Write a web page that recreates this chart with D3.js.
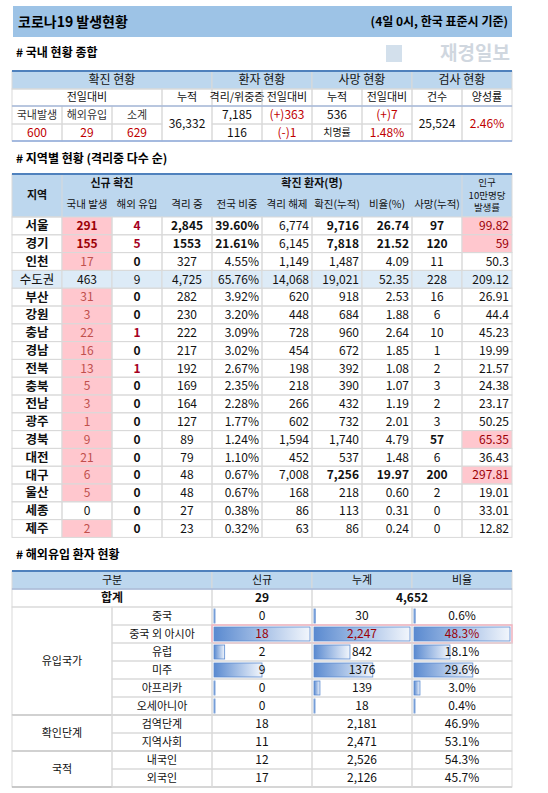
<!DOCTYPE html>
<html><head><meta charset="utf-8">
<script src="https://cdn.jsdelivr.net/npm/d3@7"></script>
<style>body{margin:0;background:#fff}text{font-family:"Noto Sans CJK KR","Noto Sans",sans-serif}</style>
</head><body><div id="chart"></div>
<script>
// 지역별 현황
const regions = ["서울","경기","인천","수도권","부산","강원","충남","경남","전북","충북","전남","광주","경북","대전","대구","울산","세종","제주"];
const domestic = ["291","155","17","463","31","3","22","16","13","5","3","1","9","21","6","5","0","2"];
const overseas = ["4","5","0","9","0","0","1","0","1","0","0","0","0","0","0","0","0","0"];
const isolated = ["2,845","1553","327","4,725","282","230","222","217","192","169","164","127","89","79","48","48","27","23"];
const share = ["39.60%","21.61%","4.55%","65.76%","3.92%","3.20%","3.09%","3.02%","2.67%","2.35%","2.28%","1.77%","1.24%","1.10%","0.67%","0.67%","0.38%","0.32%"];
const released = ["6,774","6,145","1,149","14,068","620","448","728","454","198","218","266","602","1,594","452","7,008","168","86","63"];
const cumulative = ["9,716","7,818","1,487","19,021","918","684","960","672","392","390","432","732","1,740","537","7,256","218","113","86"];
const ratio = ["26.74","21.52","4.09","52.35","2.53","1.88","2.64","1.85","1.08","1.07","1.19","2.01","4.79","1.48","19.97","0.60","0.31","0.24"];
const deaths = ["97","120","11","228","16","6","10","1","2","3","2","3","57","6","200","2","0","0"];
const per100k = ["99.82","59","50.3","209.12","26.91","44.4","45.23","19.99","21.57","24.38","23.17","50.25","65.35","36.43","297.81","19.01","33.01","12.82"];

// 해외유입
const importGroups = [["유입국가",6],["확인단계",2],["국적",2]];
const importLabels = ["중국","중국 외 아시아","유럽","미주","아프리카","오세아니아","검역단계","지역사회","내국인","외국인"];
const importNew = [0,18,2,9,0,0,18,11,12,17];
const importCum = [30,2247,842,1376,139,18,2181,2471,2526,2126];
const importCumLabel = ["30","2,247","842","1376","139","18","2,181","2,471","2,526","2,126"];
const importPct = [0.6,48.3,18.1,29.6,3.0,0.4,46.9,53.1,54.3,45.7];

const W = 548, H = 793;
const HEAD = "#bdd7ee", PINK = "#ffc7ce", DRED = "#9c0006", RED = "#c00000", GRID = "#d9d9d9", BLUE = "#4f81bd";
const svg = d3.select("#chart").append("svg").attr("width", W).attr("height", H);
const x = d3.scaleLinear().domain([0, 10]).range([12, 512]);

function cell(c0, c1, y0, y1, txt, o = {}) {
  const g = svg.append("g");
  if (o.fill) g.append("rect").attr("x", x(c0)).attr("y", y0).attr("width", x(c1) - x(c0)).attr("height", y1 - y0).attr("fill", o.fill);
  if (o.grid !== false) g.append("rect").attr("x", x(c0)).attr("y", y0).attr("width", x(c1) - x(c0)).attr("height", y1 - y0)
    .attr("fill", "none").attr("stroke", GRID).attr("stroke-width", 1);
  if (txt == null) return g;
  const lines = String(txt).split("\n");
  const anchor = o.align || "middle";
  const tx = anchor === "middle" ? (x(c0) + x(c1)) / 2 : anchor === "end" ? x(c1) - 3 : x(c0) + 3;
  const lh = o.lh || 13;
  const cy = (y0 + y1) / 2 - (lines.length - 1) * lh / 2;
  lines.forEach((l, i) => g.append("text").attr("x", tx).attr("y", cy + i * lh).attr("dy", "0.36em")
    .attr("text-anchor", anchor).attr("font-size", o.size || 12).attr("font-weight", o.bold ? "bold" : "normal")
    .attr("fill", o.color || "#111").text(l));
  return g;
}
function hline(y, color, w) {
  svg.append("line").attr("x1", x(0)).attr("x2", x(10)).attr("y1", y).attr("y2", y).attr("stroke", color).attr("stroke-width", w);
}

// 제목
svg.append("rect").attr("x", 13).attr("y", 6).attr("width", 499).attr("height", 31).attr("fill", "#9dc3e6");
svg.append("text").attr("x", 18).attr("y", 22).attr("dy", "0.36em").attr("font-size", 14).attr("font-weight", "bold").text("코로나19 발생현황");
svg.append("text").attr("x", 508).attr("y", 22).attr("dy", "0.36em").attr("text-anchor", "end").attr("font-size", 12).attr("font-weight", "bold").text("(4일 0시, 한국 표준시 기준)");
svg.append("text").attr("x", 510).attr("y", 53).attr("dy", "0.36em").attr("text-anchor", "end").attr("font-size", 19).attr("font-weight", "bold").attr("fill", "#d0d7df").text("재경일보");
svg.append("rect").attr("x", 386).attr("y", 45).attr("width", 16).attr("height", 17).attr("fill", "#d3e0ec");

function section(y, t) {
  svg.append("text").attr("x", 16).attr("y", y).attr("dy", "0.36em").attr("font-size", 12).attr("font-weight", "bold").text(t);
}

// 표1: 국내 현황 종합
section(53, "# 국내 현황 종합");
const t1 = [71, 89, 106, 124, 141];
cell(0, 4, t1[0], t1[1], "확진 현황", { fill: HEAD });
cell(4, 6, t1[0], t1[1], "환자 현황", { fill: HEAD });
cell(6, 8, t1[0], t1[1], "사망 현황", { fill: HEAD });
cell(8, 10, t1[0], t1[1], "검사 현황", { fill: HEAD });
[["전일대비", 0, 3], ["누적", 3, 4], ["격리/위중증", 4, 5], ["전일대비", 5, 6], ["누적", 6, 7], ["전일대비", 7, 8], ["건수", 8, 9], ["양성률", 9, 10]]
  .forEach(([t, a, b]) => cell(a, b, t1[1], t1[2], t, { size: 11 }));
const sumLabels = ["국내발생", "해외유입", "소계"], sumValues = ["600", "29", "629"];
sumLabels.forEach((t, i) => cell(i, i + 1, t1[2], t1[3], t, { size: 11, color: "#333" }));
sumValues.forEach((t, i) => cell(i, i + 1, t1[3], t1[4], t, { color: RED }));
cell(3, 4, t1[2], t1[4], "36,332");
cell(4, 5, t1[2], t1[3], "7,185");
cell(5, 6, t1[2], t1[3], "(+)363", { color: RED });
cell(6, 7, t1[2], t1[3], "536");
cell(7, 8, t1[2], t1[3], "(+)7", { color: RED });
cell(4, 5, t1[3], t1[4], "116");
cell(5, 6, t1[3], t1[4], "(-)1", { color: RED });
cell(6, 7, t1[3], t1[4], "치명률", { size: 10 });
cell(7, 8, t1[3], t1[4], "1.48%", { color: RED });
cell(8, 9, t1[2], t1[4], "25,524");
cell(9, 10, t1[2], t1[4], "2.46%", { color: RED });
hline(t1[0], BLUE, 2); hline(t1[2], "#8eaadb", 1); hline(t1[4], "#8eaadb", 1.5);

// 표2: 지역별 현황
section(159, "# 지역별 현황 (격리중 다수 순)");
const top2 = 174, h1 = 191.5, head2 = 217, rh = 17.8;
svg.append("rect").attr("x", x(0)).attr("y", top2).attr("width", x(10) - x(0)).attr("height", head2 - top2).attr("fill", HEAD);
cell(0, 1, top2, head2, "지역", { fill: HEAD, bold: true, size: 11 });
cell(1, 3, top2, h1, "신규 확진", { bold: true, size: 11, grid: false });
cell(3, 9, top2, h1, "확진 환자(명)", { bold: true, size: 11, grid: false });
cell(9, 10, top2, head2, "인구\n10만명당\n발생률", { size: 9.5, lh: 12.5 });
["국내 발생", "해외 유입", "격리 중", "전국 비중", "격리 해제", "확진(누적)", "비율(%)", "사망(누적)"]
  .forEach((t, i) => cell(i + 1, i + 2, h1, head2, t, { size: 10.5, grid: false }));
const y2 = d3.scaleLinear().domain([0, regions.length]).range([head2, head2 + rh * regions.length]);
const boldBig = new Set(["서울", "경기"]);
const pinkPer = new Set(["서울", "경기", "경북", "대구"]);
regions.forEach((r, i) => {
  const a = y2(i), b = y2(i + 1), metro = r === "수도권";
  const base = metro ? { fill: "#ddebf7" } : {};
  const bb = boldBig.has(r), dg = r === "대구";
  cell(0, 1, a, b, r, { ...base, bold: !metro, size: 12.5 });
  cell(1, 2, a, b, domestic[i], metro ? base : domestic[i] === "0" ? {} : { fill: PINK, color: bb ? DRED : "#c0504d", bold: bb });
  cell(2, 3, a, b, overseas[i], metro ? base : { bold: true, color: overseas[i] === "0" ? "#111" : "#a50021" });
  cell(3, 4, a, b, isolated[i], { ...base, bold: bb });
  cell(4, 5, a, b, share[i], { ...base, bold: bb, align: "end" });
  cell(5, 6, a, b, released[i], { ...base, align: "end" });
  cell(6, 7, a, b, cumulative[i], { ...base, bold: bb || dg, align: "end" });
  cell(7, 8, a, b, ratio[i], { ...base, bold: bb || dg, align: "end" });
  cell(8, 9, a, b, deaths[i], { ...base, bold: bb || dg || r === "경북" });
  cell(9, 10, a, b, per100k[i], pinkPer.has(r) ? { fill: PINK, color: DRED, align: "end" } : { ...base, align: "end" });
});
hline(top2, BLUE, 2);

// 표3: 해외유입
section(555, "# 해외유입 환자 현황");
const top3 = 571, rh3 = 18;
const y3 = d3.scaleLinear().domain([0, 1]).range([top3, top3 + rh3]);
cell(0, 4, y3(0), y3(1), "구분", { fill: HEAD, size: 11 });
cell(4, 6, y3(0), y3(1), "신규", { fill: HEAD, size: 11 });
cell(6, 8, y3(0), y3(1), "누계", { fill: HEAD, size: 11 });
cell(8, 10, y3(0), y3(1), "비율", { fill: HEAD, size: 11 });
cell(0, 4, y3(1), y3(2), "합계", { bold: true });
cell(4, 6, y3(1), y3(2), "29", { bold: true });
cell(6, 10, y3(1), y3(2), "4,652", { bold: true });
const barNew = d3.scaleLinear().domain([0, d3.max(importNew.slice(0, 6))]).range([0, 96]);
const barCum = d3.scaleLinear().domain([0, d3.max(importCum.slice(0, 6))]).range([0, 96]);
const barPct = d3.scaleLinear().domain([0, d3.max(importPct.slice(0, 6))]).range([0, 96]);
const defs = svg.append("defs");
const grad = defs.append("linearGradient").attr("id", "db");
grad.append("stop").attr("offset", "0%").attr("stop-color", "#5a8ad0");
grad.append("stop").attr("offset", "100%").attr("stop-color", "#f2f6fc");
let gi = 0;
importGroups.forEach(([g, n]) => {
  cell(0, 2, y3(2 + gi), y3(2 + gi + n), g, { size: 11 });
  gi += n;
  hline(y3(2 + gi), "#a6a6a6", 1);
});
importLabels.forEach((l, i) => {
  const a = y3(2 + i), b = y3(3 + i), hi = i === 1;
  cell(2, 4, a, b, l, { size: 11 });
  const cols = [[4, importNew[i], barNew, String(importNew[i])], [6, importCum[i], barCum, importCumLabel[i]], [8, importPct[i], barPct, importPct[i].toFixed(1) + "%"]];
  cols.forEach(([c, v, s, t]) => {
    cell(c, c + 2, a, b, null);
    if (i < 6) {
      const w = Math.max(1, s(v));
      svg.append("rect").attr("x", x(c) + 2).attr("y", a + 2).attr("width", w).attr("height", rh3 - 4)
        .attr("fill", "url(#db)").attr("stroke", "#5a8ad0").attr("stroke-width", 0.8);
    }
    svg.append("text").attr("x", (x(c) + x(c + 2)) / 2).attr("y", (a + b) / 2).attr("dy", "0.36em").attr("text-anchor", "middle")
      .attr("font-size", 12).attr("fill", hi ? DRED : "#111").text(t);
  });
  if (hi) svg.append("rect").attr("x", x(4)).attr("y", a).attr("width", x(10) - x(4)).attr("height", rh3)
    .attr("fill", "none").attr("stroke", "#f4b6c2").attr("stroke-width", 1.5);
});
hline(top3, BLUE, 2); hline(y3(1), "#8eaadb", 1);
</script></body></html>
